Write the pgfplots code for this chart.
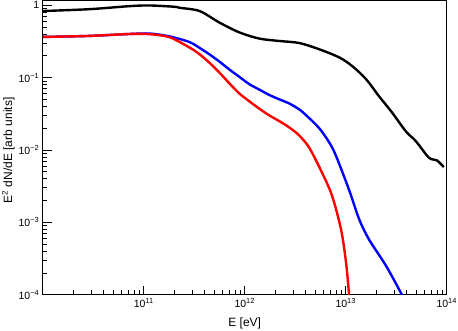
\documentclass[border=0pt]{standalone}
\usepackage{fontspec}
\setmainfont{Liberation Sans}
\usepackage{pgfplots}
\pgfplotsset{compat=1.18}

\begin{document}
\begin{tikzpicture}
\begin{axis}[
  at={(0,0)}, anchor=south west,
  scale only axis, width=404pt, height=294.2pt,
  xmode=log, ymode=log,
  xmin=1e10, xmax=1e14, ymin=1e-4, ymax=1.16,
  xtick={1e10,1e11,1e12,1e13,1e14},
  ytick={1e-4,1e-3,1e-2,1e-1,1},
  minor xtick={2e10,3e10,4e10,5e10,6e10,7e10,8e10,9e10,
               2e11,3e11,4e11,5e11,6e11,7e11,8e11,9e11,
               2e12,3e12,4e12,5e12,6e12,7e12,8e12,9e12,
               2e13,3e13,4e13,5e13,6e13,7e13,8e13,9e13},
  minor ytick={2e-4,3e-4,4e-4,5e-4,6e-4,7e-4,8e-4,9e-4,
               2e-3,3e-3,4e-3,5e-3,6e-3,7e-3,8e-3,9e-3,
               2e-2,3e-2,4e-2,5e-2,6e-2,7e-2,8e-2,9e-2,
               2e-1,3e-1,4e-1,5e-1,6e-1,7e-1,8e-1,9e-1},
  xtick pos=left, ytick pos=left, tick align=inside,
  major tick length=9pt, minor tick length=4.5pt,
  axis line style={line width=0.8pt},
  every tick/.style={line width=0.6pt, black},
  tick label style={font=\fontsize{10.5}{12}\selectfont},
  label style={font=\fontsize{12}{14}\selectfont},
  xticklabels={,10\textsuperscript{11},10\textsuperscript{12},10\textsuperscript{13},10\textsuperscript{14}},
  yticklabels={10\textsuperscript{−4},10\textsuperscript{−3},10\textsuperscript{−2},10\textsuperscript{−1},1},
  xlabel={E [eV]},
  ylabel={E\textsuperscript{2} dN/dE [arb units]},
  xlabel style={at={(rel axis cs:0.5,0)}, anchor=north, inner sep=0pt, yshift=-23pt},
  ylabel style={at={(rel axis cs:0,0.31)}, anchor=south west, inner sep=0pt, yshift=28pt},
  every axis plot/.append style={line width=2.4pt, smooth, tension=0.5},
]
% total
\addplot[black] coordinates {
  (1.01e10,0.83) (2.9e10,0.88) (7.3e10,0.97) (1.15e11,0.99) (2.02e11,0.95)
  (2.26e11,0.92) (3.57e11,0.83) (5.62e11,0.575) (8.87e11,0.42) (1.40e12,0.345)
  (2.20e12,0.32) (3.47e12,0.30) (5.46e12,0.246) (8.61e12,0.19) (1.16e13,0.144)
  (1.59e13,0.095) (2.14e13,0.055) (2.87e13,0.033) (3.95e13,0.018) (4.95e13,0.0132)
  (6.67e13,0.0078) (7.98e13,0.0072) (9.35e13,0.0058)
};
% blue
\addplot[blue] coordinates {
  (1.01e10,0.364) (2.9e10,0.376) (7.3e10,0.40) (1.15e11,0.405) (1.81e11,0.37)
  (2.84e11,0.309) (3.57e11,0.257) (4.48e11,0.209) (5.62e11,0.166) (7.06e11,0.129)
  (8.87e11,0.102) (1.11e12,0.081) (1.40e12,0.068) (1.75e12,0.0575) (2.20e12,0.050)
  (2.77e12,0.0437) (3.47e12,0.0363) (4.07e12,0.030) (5.46e12,0.020) (6.89e12,0.0126)
  (8.04e12,0.0082) (1.08e13,0.0028) (1.36e13,0.0011) (1.70e13,0.00058)
  (2.51e13,0.00025) (3.52e13,0.000106) (3.7e13,0.00009)
};
% red
\addplot[red] coordinates {
  (1.01e10,0.364) (2.9e10,0.376) (7.3e10,0.40) (1.15e11,0.397) (1.81e11,0.36)
  (2.84e11,0.26) (3.57e11,0.21) (4.48e11,0.16) (5.62e11,0.117) (7.06e11,0.083)
  (8.87e11,0.060) (1.11e12,0.047) (1.40e12,0.037) (1.75e12,0.030) (2.20e12,0.025)
  (2.77e12,0.0204) (3.47e12,0.0158) (4.36e12,0.0107) (5.85e12,0.0048)
  (7.35e12,0.0023) (9.02e12,0.00078) (1.01e13,0.00027) (1.08e13,0.0001) (1.1e13,0.00008)
};
\end{axis}
\pgfresetboundingbox
\path[use as bounding box] (-42.7pt,-36.3pt) rectangle (415.3pt,294.7pt);
\end{tikzpicture}
\end{document}
